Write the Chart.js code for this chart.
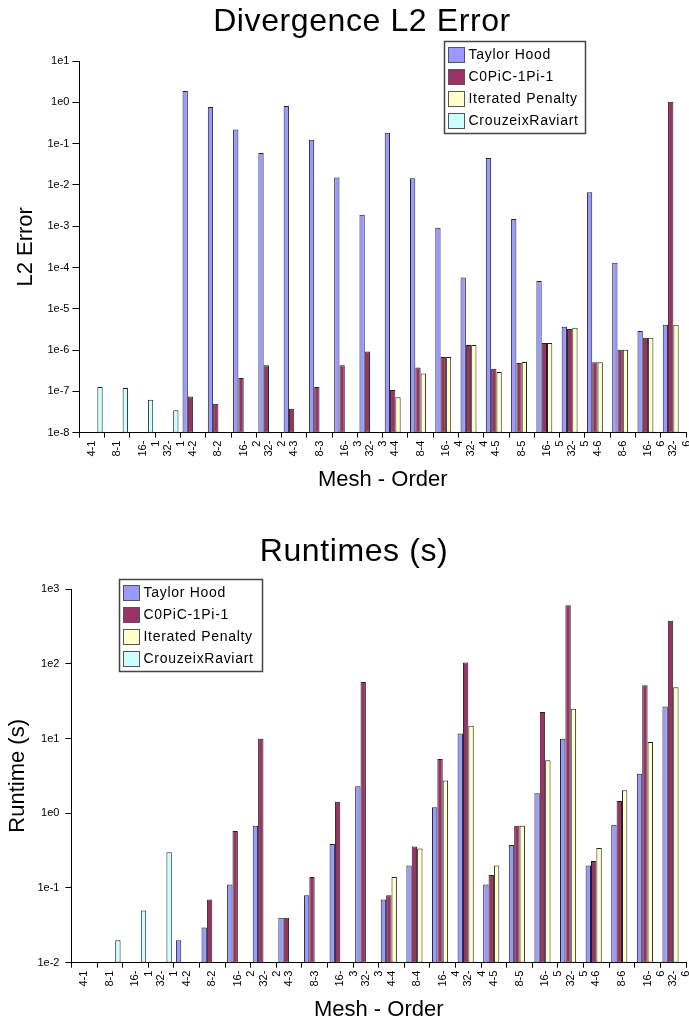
<!DOCTYPE html>
<html lang="en">
<head>
  <meta charset="UTF-8">
  <title>Divergence L2 Error / Runtimes</title>
  <script src="https://cdn.jsdelivr.net/npm/chart.js"></script>
  <style>
    body { margin: 0; background: #fff; }
    .wrap { position: absolute; left: 0; width: 689px; }
    #top { top: 0; height: 520px; }
    #bottom { top: 520px; height: 504px; }
  </style>
</head>
<body>
  <div class="wrap" id="top"><canvas id="errorChart" width="689" height="520"></canvas></div>
  <div class="wrap" id="bottom"><canvas id="runtimeChart" width="689" height="504"></canvas></div>
  <script>
    const categories = [
      '4-1', '8-1', ['16-', '1'], ['32-', '1'],
      '4-2', '8-2', ['16-', '2'], ['32-', '2'],
      '4-3', '8-3', ['16-', '3'], ['32-', '3'],
      '4-4', '8-4', ['16-', '4'], ['32-', '4'],
      '4-5', '8-5', ['16-', '5'], ['32-', '5'],
      '4-6', '8-6', ['16-', '6'], ['32-', '6']
    ];
    const seriesNames = ['Taylor Hood', 'C0PiC-1Pi-1', 'Iterated Penalty', 'CrouzeixRaviart'];

    // divergence L2 error
    const errTaylorHood = [null, null, null, null, 1.88, 0.77, 0.221, 0.059, 0.81, 0.124, 0.0152, 0.0019,
      0.184, 0.0144, 9.2e-4, 5.7e-5, 0.0448, 1.5e-3, 4.7e-5, 3.7e-6, 6.6e-3, 1.31e-4, 2.9e-6, 4.1e-6];
    const errC0PiC = [null, null, null, null, 7.5e-8, 5.0e-8, 2.1e-7, 4.3e-7, 3.8e-8, 1.28e-7, 4.3e-7, 9.2e-7,
      1.08e-7, 3.8e-7, 6.8e-7, 1.33e-6, 3.55e-7, 4.9e-7, 1.49e-6, 3.24e-6, 5.06e-7, 1.02e-6, 2.0e-6, 1.03];
    const errPenalty = [null, null, null, null, null, null, null, null, null, null, null, null,
      7.2e-8, 2.7e-7, 6.8e-7, 1.33e-6, 2.95e-7, 5.15e-7, 1.49e-6, 3.5e-6, 5.06e-7, 1.02e-6, 2.0e-6, 4.1e-6];
    const errCrouzeix = [1.28e-7, 1.21e-7, 6.3e-8, 3.5e-8, null, null, null, null, null, null, null, null,
      null, null, null, null, null, null, null, null, null, null, null, null];
    const errTicks = [1e-8, 1e-7, 1e-6, 1e-5, 1e-4, 1e-3, 1e-2, 1e-1, 1e0, 1e1];

    // runtimes (s)
    const runTaylorHood = [null, null, null, null, 0.020, 0.0295, 0.111, 0.68, 0.040, 0.080, 0.387, 2.3,
      0.070, 0.20, 1.2, 11.7, 0.111, 0.375, 1.85, 9.9, 0.20, 0.70, 3.37, 26.7];
    const runC0PiC = [null, null, null, null, null, 0.070, 0.578, 9.9, 0.040, 0.140, 1.42, 57,
      0.080, 0.36, 5.3, 104, 0.149, 0.68, 22.6, 604, 0.229, 1.46, 51.5, 376];
    const runPenalty = [null, null, null, null, null, null, null, null, null, null, null, null,
      0.140, 0.338, 2.74, 14.8, 0.20, 0.68, 5.1, 25, 0.342, 2.03, 8.95, 48.4];
    const runCrouzeix = [null, 0.020, 0.050, 0.30, null, null, null, null, null, null, null, null,
      null, null, null, null, null, null, null, null, null, null, null, null];
    const runTicks = [1e-2, 1e-1, 1e0, 1e1, 1e2, 1e3];

    const colors = ['#9999ff', '#993366', '#ffffcc', '#ccffff'];
    const FONT = '"Liberation Sans", Arial, sans-serif';

    // big title, drawn here so it can be letter-spaced like the original
    const spacedTitle = {
      id: 'spacedTitle',
      afterDraw(chart, args, opts) {
        const ctx = chart.ctx;
        ctx.save();
        ctx.font = '32px ' + FONT;
        if ('letterSpacing' in ctx) ctx.letterSpacing = '0.6px';
        ctx.fillStyle = '#000';
        ctx.textAlign = 'center';
        ctx.textBaseline = 'alphabetic';
        ctx.fillText(opts.text, opts.cx, opts.baseline);
        ctx.restore();
      }
    };

    // legend drawn as a boxed overlay inside the plot
    const boxLegend = {
      id: 'boxLegend',
      afterDraw(chart, args, opts) {
        const ctx = chart.ctx;
        const a = chart.chartArea;
        const x = Math.round(a.left + opts.dx) + 0.5;
        const y = Math.round(a.top + opts.dy) + 0.5;
        const rows = chart.data.datasets;
        const w = opts.width, h = rows.length * 22 + 4;
        ctx.save();
        ctx.fillStyle = '#fff';
        ctx.fillRect(x, y, w, h);
        ctx.strokeStyle = '#444';
        ctx.lineWidth = 1.5;
        ctx.strokeRect(x, y, w, h);
        ctx.font = '14px ' + FONT;
        if ('letterSpacing' in ctx) ctx.letterSpacing = '0.7px';
        ctx.textBaseline = 'middle';
        rows.forEach((ds, i) => {
          const ry = y + 6 + i * 22;
          ctx.fillStyle = ds.backgroundColor;
          ctx.fillRect(x + 4, ry, 16, 15);
          ctx.strokeStyle = '#555';
          ctx.lineWidth = 1;
          ctx.strokeRect(x + 4, ry, 16, 15);
          ctx.fillStyle = '#000';
          ctx.fillText(ds.label, x + 24, ry + 8);
        });
        ctx.restore();
      }
    };

    function makeChart(canvasId, cfg) {
      const datasets = cfg.series.map((values, i) => ({
        label: seriesNames[i],
        data: values,
        backgroundColor: colors[i],
        borderColor: '#222',
        borderWidth: 1,
        borderSkipped: false,
        categoryPercentage: 0.84,
        barPercentage: 1.0
      }));
      return new Chart(document.getElementById(canvasId).getContext('2d'), {
        type: 'bar',
        data: { labels: categories, datasets: datasets },
        plugins: [spacedTitle, boxLegend],
        options: {
          responsive: false,
          animation: false,
          layout: { padding: cfg.padding },
          plugins: {
            legend: { display: false },
            tooltip: { enabled: false },
            title: { display: false },
            spacedTitle: cfg.title,
            boxLegend: cfg.legend
          },
          scales: {
            x: {
              afterFit: scale => { scale.paddingRight = 3; },
              grid: { drawOnChartArea: false, tickLength: 5, color: '#000', offset: true },
              border: { color: '#000' },
              ticks: {
                autoSkip: false, minRotation: 90, maxRotation: 90,
                color: '#000', padding: 3,
                font: { family: FONT, size: 11 }
              },
              title: {
                display: true, text: 'Mesh - Order', color: '#000',
                font: { family: FONT, size: 22 },
                padding: { top: 7, bottom: 0 }
              }
            },
            y: {
              type: 'logarithmic',
              min: cfg.ticks[0],
              max: cfg.ticks[cfg.ticks.length - 1],
              afterBuildTicks: scale => {
                scale.ticks = cfg.ticks.map(v => ({ value: v }));
              },
              grid: { drawOnChartArea: false, tickLength: cfg.tickLength, color: '#000' },
              border: { color: '#000' },
              ticks: {
                color: '#000', padding: cfg.tickPadding,
                font: { family: FONT, size: 11 },
                callback: v => '1e' + Math.round(Math.log10(v))
              },
              title: {
                display: true, text: cfg.yTitle, color: '#000',
                font: { family: FONT, size: 22 },
                padding: cfg.yTitlePadding
              }
            }
          }
        }
      });
    }

    makeChart('errorChart', {
      title: { text: 'Divergence L2 Error', cx: 362, baseline: 31 },
      yTitle: 'L2 Error',
      series: [errTaylorHood, errC0PiC, errPenalty, errCrouzeix],
      ticks: errTicks,
      tickLength: 7, tickPadding: 3,
      padding: { left: 9, right: 0, top: 61, bottom: 27 },
      yTitlePadding: { top: 4, bottom: 5 },
      legend: { dx: 365, dy: -20, width: 141 }
    });

    makeChart('runtimeChart', {
      title: { text: 'Runtimes (s)', cx: 354, baseline: 41 },
      yTitle: 'Runtime (s)',
      series: [runTaylorHood, runC0PiC, runPenalty, runCrouzeix],
      ticks: runTicks,
      tickLength: 6, tickPadding: 6,
      padding: { left: 1, right: 0, top: 69, bottom: 1 },
      yTitlePadding: { top: 4, bottom: 0 },
      legend: { dx: 48, dy: -10, width: 143 }
    });
  </script>
</body>
</html>
